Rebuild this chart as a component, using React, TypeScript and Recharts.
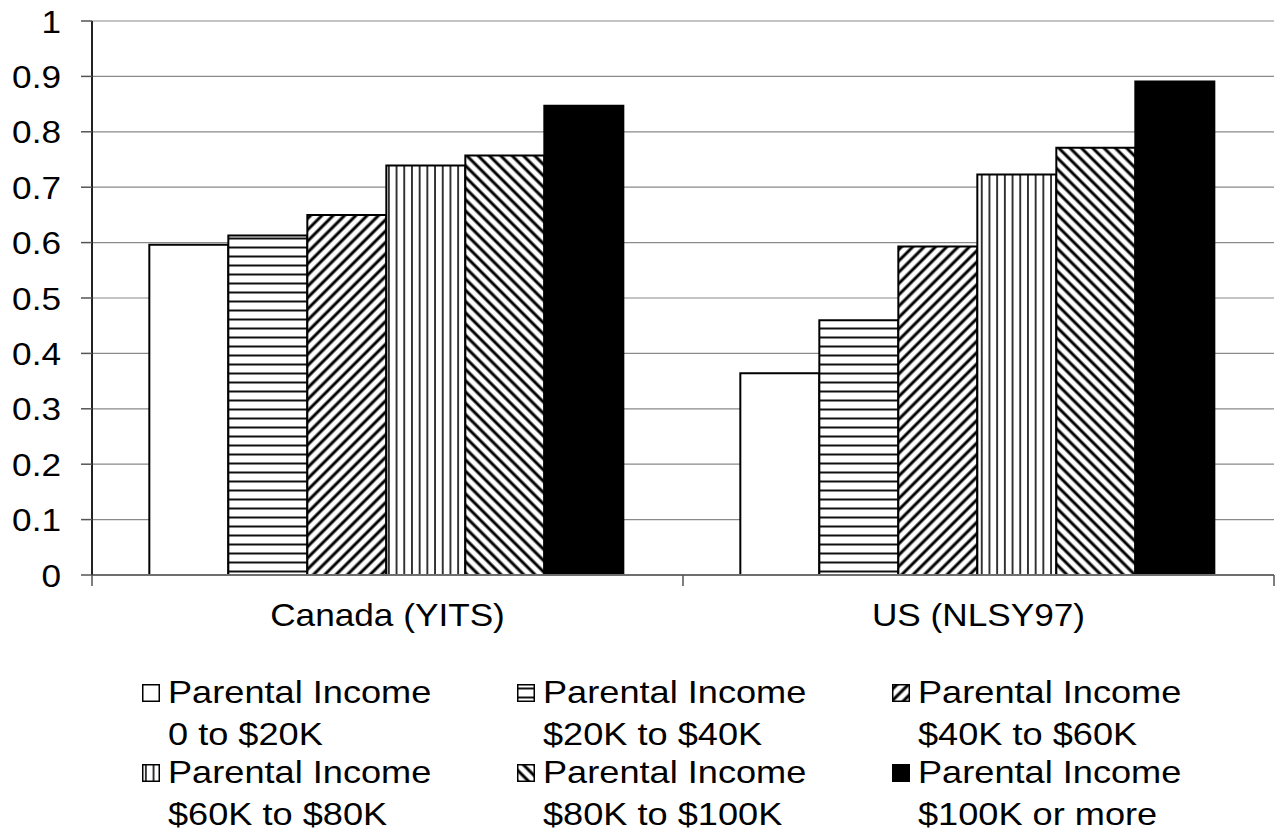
import { BarChart, Bar, XAxis, YAxis, CartesianGrid } from 'recharts';

// Share by parental income band, per survey
const CATEGORIES = ['Canada (YITS)', 'US (NLSY97)'];
const INCOME_BANDS = [
  '0 to $20K',
  '$20K to $40K',
  '$40K to $60K',
  '$60K to $80K',
  '$80K to $100K',
  '$100K or more',
];
const CANADA_SHARE = [0.596, 0.613, 0.65, 0.739, 0.757, 0.847];
const US_SHARE = [0.364, 0.46, 0.593, 0.723, 0.771, 0.891];
const Y_TICKS = [0, 0.1, 0.2, 0.3, 0.4, 0.5, 0.6, 0.7, 0.8, 0.9, 1];

// one fill per income band, hatches defined in <defs> below
const FILLS = [
  '#ffffff',
  'url(#hatch-horizontal)',
  'url(#hatch-diag-up)',
  'url(#hatch-vertical)',
  'url(#hatch-diag-down)',
  '#000000',
];

const WIDTH = 1276;
const HEIGHT = 835;
const MARGIN = { top: 21, right: 2, bottom: 200, left: 0 };
const Y_AXIS_W = 92;
const X_AXIS_H = 60;
const BAND = (WIDTH - MARGIN.left - MARGIN.right - Y_AXIS_W) / CATEGORIES.length;
const FONT = '"Liberation Sans", Arial, Helvetica, sans-serif';
const FONT_SIZE = 32;
// the type is set a little wide
const STRETCH = 1.1;
const LEGEND_STRETCH = 1.13;

const SHARES = [CANADA_SHARE, US_SHARE];
const rows = CATEGORIES.map((name, i) => {
  const row: Record<string, string | number> = { name };
  SHARES[i].forEach((v, j) => {
    row[`s${j}`] = v;
  });
  return row;
});

function ShareTick({ x, y, payload }: any) {
  return (
    <text
      transform={`translate(${x},${y}) scale(${STRETCH},1)`}
      textAnchor="end"
      dy={11.5}
      fontSize={FONT_SIZE}
      fontFamily={FONT}
      fill="#000"
    >
      {payload.value}
    </text>
  );
}

// category label centred in its band, tick marks on the band edges
function CategoryTick({ x, y, payload, index }: any) {
  const half = BAND / 2;
  return (
    <g>
      <line x1={x - half} x2={x - half} y1={y} y2={y + 11} stroke="#555" strokeWidth={1.5} />
      {index === CATEGORIES.length - 1 && (
        <line x1={x + half} x2={x + half} y1={y} y2={y + 11} stroke="#555" strokeWidth={1.5} />
      )}
      <text
        transform={`translate(${x},${y + 51}) scale(${STRETCH},1)`}
        textAnchor="middle"
        fontSize={FONT_SIZE}
        fontFamily={FONT}
        fill="#000"
      >
        {payload.value}
      </text>
    </g>
  );
}

function IncomeLegend() {
  return (
    <div style={{ position: 'absolute', left: 0, top: 0, width: WIDTH, height: HEIGHT, pointerEvents: 'none' }}>
      {INCOME_BANDS.map((band, j) => {
        const col = j % 3;
        const row = Math.floor(j / 3);
        const left = 142 + col * 375;
        const top = 671 + row * 80;
        return (
          <div key={band} style={{ position: 'absolute', left, top }}>
            <svg width={18} height={18} style={{ position: 'absolute', left: 0, top: 13 }}>
              <rect x={0.75} y={0.75} width={16.5} height={16.5} fill={FILLS[j]} stroke="#000" strokeWidth={1.5} />
            </svg>
            <div
              style={{
                position: 'absolute',
                left: 26,
                top: 0,
                fontFamily: FONT,
                fontSize: FONT_SIZE,
                lineHeight: '42px',
                color: '#000',
                whiteSpace: 'nowrap',
                transform: `scaleX(${LEGEND_STRETCH})`,
                transformOrigin: 'left top',
              }}
            >
              <div>Parental Income</div>
              <div>{band}</div>
            </div>
          </div>
        );
      })}
    </div>
  );
}

export default function App() {
  return (
    <div style={{ position: 'absolute', left: 0, top: 0, width: WIDTH, height: HEIGHT, background: '#fff' }}>
      <BarChart
        width={WIDTH}
        height={HEIGHT}
        data={rows}
        margin={MARGIN}
        barCategoryGap="9.7%"
        barGap={0}
      >
        <defs>
          <pattern id="hatch-horizontal" patternUnits="userSpaceOnUse" width={10} height={9}>
            <rect width={10} height={9} fill="#fff" />
            <line x1={0} x2={10} y1={4.5} y2={4.5} stroke="#111" strokeWidth={2} />
          </pattern>
          <pattern id="hatch-vertical" patternUnits="userSpaceOnUse" width={7.7} height={10}>
            <rect width={7.7} height={10} fill="#fff" />
            <line x1={3.85} x2={3.85} y1={0} y2={10} stroke="#222" strokeWidth={1.8} />
          </pattern>
          <pattern
            id="hatch-diag-up"
            patternUnits="userSpaceOnUse"
            width={8}
            height={8}
            patternTransform="rotate(45)"
          >
            <rect width={8} height={8} fill="#fff" />
            <line x1={4} x2={4} y1={0} y2={8} stroke="#000" strokeWidth={3} />
          </pattern>
          <pattern
            id="hatch-diag-down"
            patternUnits="userSpaceOnUse"
            width={8}
            height={8}
            patternTransform="rotate(-45)"
          >
            <rect width={8} height={8} fill="#fff" />
            <line x1={4} x2={4} y1={0} y2={8} stroke="#000" strokeWidth={3} />
          </pattern>
        </defs>
        <CartesianGrid vertical={false} stroke="#8a8a8a" strokeWidth={1.2} />
        <XAxis
          dataKey="name"
          height={X_AXIS_H}
          tickLine={false}
          tickSize={0}
          tickMargin={0}
          axisLine={{ stroke: '#6e6e6e', strokeWidth: 2 }}
          tick={<CategoryTick />}
          interval={0}
        />
        <YAxis
          width={Y_AXIS_W}
          domain={[0, 1]}
          ticks={Y_TICKS}
          interval={0}
          tickSize={11}
          tickMargin={20}
          tickLine={{ stroke: '#555', strokeWidth: 1.5 }}
          axisLine={{ stroke: '#222', strokeWidth: 2 }}
          tick={<ShareTick />}
        />
        {INCOME_BANDS.map((band, j) => (
          <Bar
            key={band}
            dataKey={`s${j}`}
            name={band}
            fill={FILLS[j]}
            stroke="#000"
            strokeWidth={2}
            isAnimationActive={false}
          />
        ))}
      </BarChart>
      <IncomeLegend />
    </div>
  );
}
